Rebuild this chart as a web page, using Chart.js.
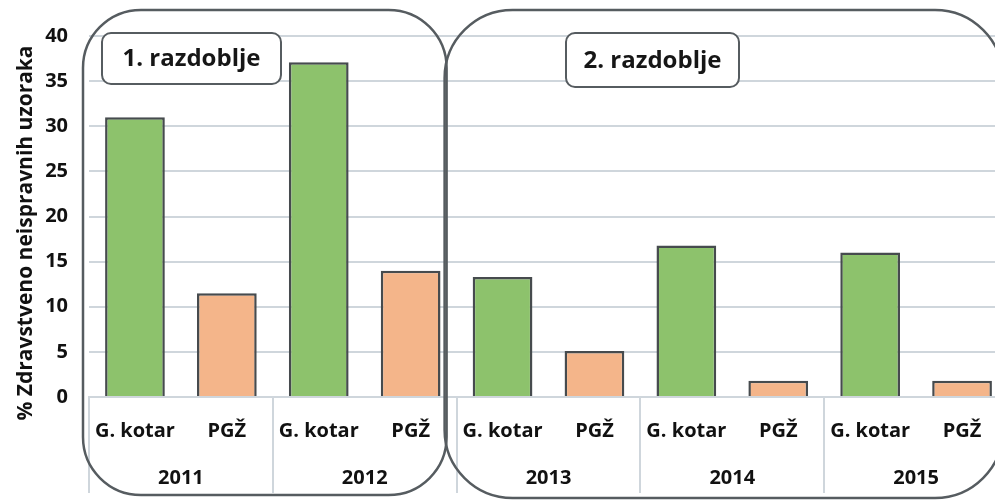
<!DOCTYPE html>
<html>
<head>
<meta charset="utf-8">
<style>
  html, body { margin: 0; padding: 0; background: #ffffff; overflow: hidden; }
  #okvir { position: relative; width: 1010px; height: 501px; }
</style>
</head>
<body>
<div id="okvir"><canvas id="grafikon" width="1010" height="501"></canvas></div>

<script src="https://cdn.jsdelivr.net/npm/chart.js"></script>
<script>
  // podaci: % zdravstveno neispravnih uzoraka po godinama
  const godine = ['2011', '2012', '2013', '2014', '2015'];
  const podrucja = ['G. kotar', 'PGŽ'];
  const gKotar = [31.0, 37.1, 13.3, 16.8, 16.0];
  const pgz = [11.5, 14.0, 5.1, 1.8, 1.8];
  const yMaks = 40;
  const yKorak = 5;
  const razdoblja = ['1. razdoblje', '2. razdoblje'];
  const naslovY = '% Zdravstveno neispravnih uzoraka';

  const boje = ['#8dc26c', '#f4b58a'];
  const sivaMreza = '#cfd6dc';
  const tamnaLinija = '#565c60';
  const rubTraka = '#464b4e';
  const font = "'Open Sans', sans-serif";

  // dvije trake po godini: G. kotar pa PGŽ
  const oznake = [], vrijednosti = [], bojeTraka = [];
  godine.forEach((g, i) => {
    oznake.push(podrucja[0], podrucja[1]);
    vrijednosti.push(gKotar[i], pgz[i]);
    bojeTraka.push(boje[0], boje[1]);
  });

  // granice izmedju godina na donjoj osi
  function granica(os, i) {
    const pola = (os.getPixelForValue(1) - os.getPixelForValue(0)) / 2;
    return os.getPixelForValue(i) - pola;
  }

  const ukrasi = {
    id: 'ukrasi',
    afterDraw(chart) {
      const ctx = chart.ctx;
      const ca = chart.chartArea;
      const os2 = chart.scales.x2;

      // okomite crte izmedju godina
      ctx.save();
      ctx.strokeStyle = sivaMreza;
      ctx.lineWidth = 2;
      for (let i = 0; i <= godine.length; i++) {
        const x = Math.round(granica(os2, i));
        ctx.beginPath();
        ctx.moveTo(x, ca.bottom);
        ctx.lineTo(x, os2.bottom);
        ctx.stroke();
      }
      ctx.restore();

      // naslov osi y
      ctx.save();
      ctx.translate(26, 233);
      ctx.rotate(-Math.PI / 2);
      ctx.fillStyle = '#111111';
      ctx.font = 'bold 21px ' + font;
      ctx.textAlign = 'center';
      ctx.textBaseline = 'middle';
      ctx.fillText(naslovY, 0, 0);
      ctx.restore();

      // zaobljeni okviri razdoblja
      const sredina = granica(os2, 2);
      const kraj = granica(os2, godine.length);
      ctx.save();
      ctx.strokeStyle = tamnaLinija;
      ctx.lineWidth = 2.5;
      ctx.beginPath();
      ctx.roundRect(ca.left - 6, 10, sredina - 10 - (ca.left - 6), 485, 58);
      ctx.stroke();
      ctx.beginPath();
      ctx.roundRect(sredina - 12, 10, kraj - 5 - (sredina - 12), 488, 68);
      ctx.stroke();

      // natpisi razdoblja
      const natpisi = [
        { x: 102, y: 33, w: 179, h: 51 },
        { x: 566, y: 33, w: 173, h: 54 }
      ];
      natpisi.forEach((n, i) => {
        ctx.beginPath();
        ctx.roundRect(n.x, n.y, n.w, n.h, 9);
        ctx.fillStyle = '#ffffff';
        ctx.fill();
        ctx.lineWidth = 2;
        ctx.stroke();
        ctx.fillStyle = '#161616';
        ctx.font = 'bold 24px ' + font;
        ctx.textAlign = 'center';
        ctx.textBaseline = 'middle';
        ctx.fillText(razdoblja[i], n.x + n.w / 2, n.y + n.h / 2 + 1);
      });
      ctx.restore();
    }
  };

  new Chart(document.getElementById('grafikon'), {
    type: 'bar',
    data: {
      labels: oznake,
      datasets: [{
        data: vrijednosti,
        backgroundColor: bojeTraka,
        borderColor: rubTraka,
        borderWidth: 2.5,
        barPercentage: 0.65,
        categoryPercentage: 1
      }]
    },
    options: {
      responsive: false,
      animation: false,
      layout: { padding: { top: 36, right: 2, bottom: 8, left: 0 } },
      plugins: { legend: { display: false }, tooltip: { enabled: false } },
      scales: {
        y: {
          min: 0,
          max: yMaks,
          ticks: { stepSize: yKorak, padding: 21, color: '#111111', font: { family: font, size: 20, weight: 'bold' } },
          grid: { color: sivaMreza, lineWidth: 2, drawTicks: false },
          border: { display: false },
          afterFit: s => { s.width = 89; }
        },
        x: {
          weight: 0,
          grid: { display: false, drawTicks: false },
          border: { color: sivaMreza, width: 2 },
          ticks: { padding: 22, maxRotation: 0, autoSkip: false, color: '#111111', font: { family: font, size: 20, weight: 'bold' } },
          afterFit: s => { s.height = 56; }
        },
        x2: {
          type: 'category',
          position: 'bottom',
          weight: 1,
          labels: godine,
          grid: { display: false, drawTicks: false },
          border: { display: false },
          ticks: { padding: 13, maxRotation: 0, color: '#111111', font: { family: font, size: 20, weight: 'bold' } },
          afterFit: s => { s.height = 40; }
        }
      }
    },
    plugins: [ukrasi]
  });
</script>
</body>
</html>
